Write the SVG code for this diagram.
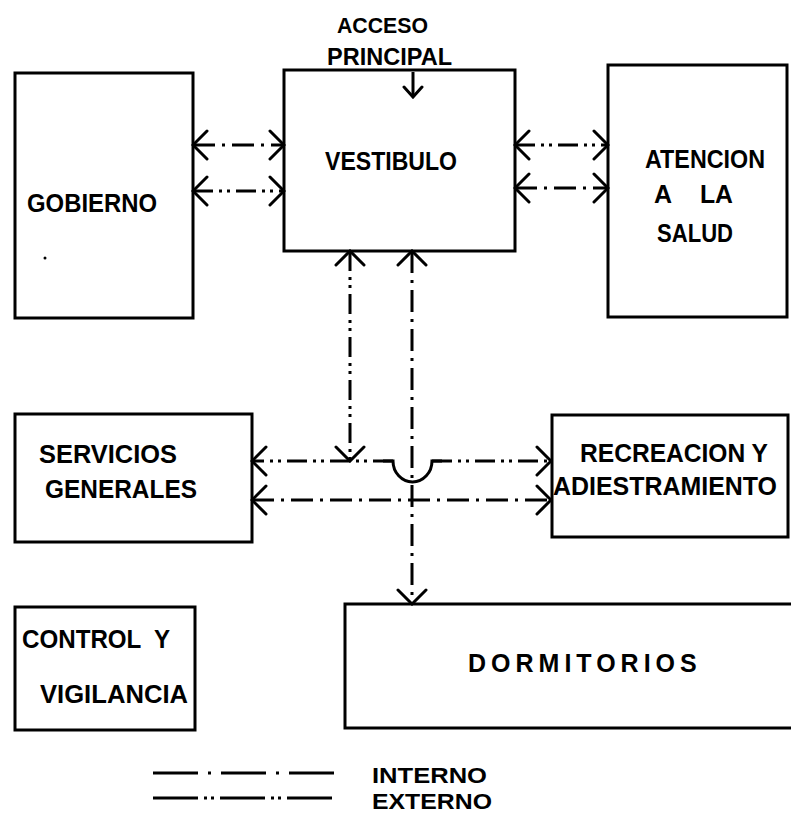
<svg xmlns="http://www.w3.org/2000/svg" width="791" height="816" viewBox="0 0 791 816">
  <style>
    .box { fill: none; stroke: #000; stroke-width: 3; }
    .lbl { font-family: "Liberation Sans", Arial, sans-serif; font-weight: bold; font-size: 25px; fill: #000; }
    .leg { font-family: "Liberation Sans", Arial, sans-serif; font-weight: bold; font-size: 22px; fill: #000; }
    .int { fill: none; stroke: #000; stroke-width: 3; stroke-dasharray: 22 7 3 7; }
    .ext { fill: none; stroke: #000; stroke-width: 3; stroke-dasharray: 20 6 3 5 3 6; }
    .lint { fill: none; stroke: #000; stroke-width: 3; stroke-dasharray: 45 10 3 10; }
    .lext { fill: none; stroke: #000; stroke-width: 3; stroke-dasharray: 45 6 3 4 3 6; }
    .solid { fill: none; stroke: #000; stroke-width: 3; }
  </style>
  <defs>
    <marker id="ah" viewBox="-18 -16 20 32" refX="0" refY="0" markerWidth="20" markerHeight="32" markerUnits="userSpaceOnUse" orient="auto-start-reverse">
      <path d="M-14,-14 L0,0 L-14,14" fill="none" stroke="#000" stroke-width="3" stroke-linecap="round" stroke-linejoin="miter"/>
    </marker>
    <marker id="ahs" viewBox="-12 -12 14 24" refX="0" refY="0" markerWidth="14" markerHeight="24" markerUnits="userSpaceOnUse" orient="auto">
      <path d="M-10,-9 L0,0 L-10,9" fill="none" stroke="#000" stroke-width="3" stroke-linecap="round"/>
    </marker>
  </defs>

  <g id="gobierno">
    <rect class="box" x="15" y="73" width="178" height="245"/>
    <text class="lbl" x="27" y="212" textLength="130" lengthAdjust="spacingAndGlyphs">GOBIERNO</text>
    <circle cx="45" cy="258" r="1.5" fill="#000"/>
  </g>

  <g id="vestibulo">
    <rect class="box" x="284" y="70" width="231" height="181"/>
    <text class="lbl" x="325" y="170" textLength="132" lengthAdjust="spacingAndGlyphs">VESTIBULO</text>
  </g>

  <g id="acceso">
    <text class="lbl" x="337" y="33" textLength="91" lengthAdjust="spacingAndGlyphs" style="font-size:22px">ACCESO</text>
    <text class="lbl" x="327" y="65" textLength="125" lengthAdjust="spacingAndGlyphs" style="font-size:24px">PRINCIPAL</text>
  </g>

  <g id="atencion">
    <rect class="box" x="608" y="65" width="179" height="252"/>
    <text class="lbl" x="645" y="168" textLength="120" lengthAdjust="spacingAndGlyphs">ATENCION</text>
    <text class="lbl" x="654" y="203">A</text>
    <text class="lbl" x="700" y="203" textLength="33" lengthAdjust="spacingAndGlyphs">LA</text>
    <text class="lbl" x="657" y="242" textLength="76" lengthAdjust="spacingAndGlyphs">SALUD</text>
  </g>

  <g id="servicios">
    <rect class="box" x="15" y="414" width="237" height="128"/>
    <text class="lbl" x="39" y="463" textLength="138" lengthAdjust="spacingAndGlyphs">SERVICIOS</text>
    <text class="lbl" x="45" y="498" textLength="152" lengthAdjust="spacingAndGlyphs">GENERALES</text>
  </g>

  <g id="recreacion">
    <rect class="box" x="552" y="415" width="236" height="122"/>
    <text class="lbl" x="580" y="462" textLength="188" lengthAdjust="spacingAndGlyphs">RECREACION Y</text>
    <text class="lbl" x="553" y="495" textLength="224" lengthAdjust="spacingAndGlyphs">ADIESTRAMIENTO</text>
  </g>

  <g id="control">
    <rect class="box" x="15" y="607" width="180" height="123"/>
    <text class="lbl" x="22" y="648" textLength="148" lengthAdjust="spacingAndGlyphs" xml:space="preserve">CONTROL  Y</text>
    <text class="lbl" x="40" y="703" textLength="148" lengthAdjust="spacingAndGlyphs">VIGILANCIA</text>
  </g>

  <g id="dormitorios">
    <rect class="box" x="345" y="604" width="460" height="124"/>
    <text class="lbl" x="468" y="672" style="font-size:25px; letter-spacing:5px">DORMITORIOS</text>
  </g>

  <g id="connectors">
    <line class="solid" x1="413" y1="72" x2="413" y2="97" marker-end="url(#ahs)"/>
    <line class="int" x1="193" y1="145" x2="284" y2="145" marker-start="url(#ah)" marker-end="url(#ah)"/>
    <line class="ext" x1="193" y1="191" x2="284" y2="191" marker-start="url(#ah)" marker-end="url(#ah)"/>
    <line class="ext" x1="515" y1="145" x2="608" y2="145" marker-start="url(#ah)" marker-end="url(#ah)"/>
    <line class="int" x1="515" y1="188" x2="608" y2="188" marker-start="url(#ah)" marker-end="url(#ah)"/>
    <line class="ext" x1="350" y1="251" x2="350" y2="461" marker-start="url(#ah)" marker-end="url(#ah)"/>
    <line class="int" x1="412" y1="251" x2="412" y2="604" marker-start="url(#ah)" marker-end="url(#ah)"/>
    <line class="ext" x1="393" y1="461" x2="252" y2="461" marker-end="url(#ah)"/>
    <path class="solid" d="M383,461 H393 A19.5,21 0 0 0 432,461 H442"/>
    <line class="ext" x1="432" y1="461" x2="551" y2="461" marker-end="url(#ah)"/>
    <line class="int" x1="252" y1="500" x2="551" y2="500" marker-start="url(#ah)" marker-end="url(#ah)"/>
  </g>

  <g id="legend">
    <line class="lint" x1="153" y1="773" x2="335" y2="773"/>
    <line class="lext" x1="153" y1="798" x2="335" y2="798"/>
    <text class="leg" x="372" y="783" textLength="115" lengthAdjust="spacingAndGlyphs">INTERNO</text>
    <text class="leg" x="372" y="809" textLength="120" lengthAdjust="spacingAndGlyphs">EXTERNO</text>
  </g>
</svg>
